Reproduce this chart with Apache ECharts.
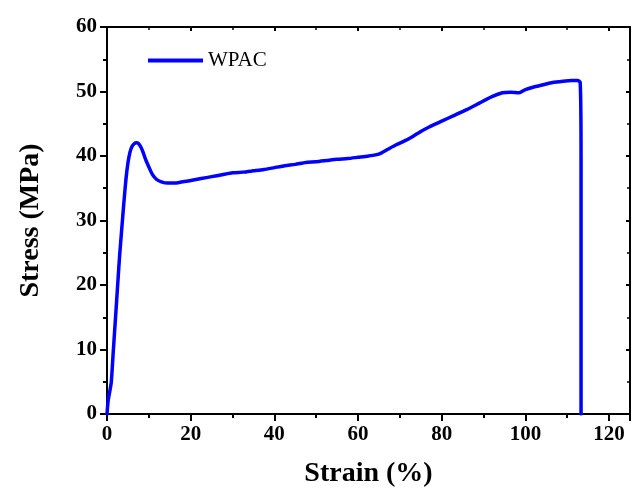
<!DOCTYPE html>
<html>
<head>
<meta charset="utf-8">
<script src="https://cdn.jsdelivr.net/npm/echarts@6/dist/echarts.min.js"></script>
<style>html,body{margin:0;padding:0;background:#fff}#c{width:633px;height:490px}</style>
</head>
<body>
<div id="c"></div>
<script>
const seriesName = 'WPAC';
const strain = [0,0.3,1.0,1.5,2.0,2.5,3.0,3.5,4.0,4.5,5.0,5.5,6.0,6.5,7.0,7.4,7.9,8.5,9.2,10.0,10.8,11.8,13.0,14.5,16.0,18.0,20.0,22.5,25.0,27.5,30.0,32.5,35.0,37.5,40.0,42.5,45.0,47.5,50.0,52.5,55.0,57.5,60.0,62.5,65.0,67.0,69.0,71.0,73.0,75.0,77.0,80.0,83.0,86.0,89.0,92.0,94.5,96.5,98.5,100.0,102.0,104.0,106.5,109.0,111.0,112.5,113.1,113.3,113.3];
const stress = [0,2.2,4.8,9.7,14.6,19.5,24.4,28.5,32.5,36.2,38.9,40.6,41.5,41.9,42.05,42.0,41.6,40.8,39.5,38.3,37.2,36.4,36.0,35.8,35.8,36.0,36.2,36.5,36.8,37.1,37.4,37.5,37.7,37.9,38.2,38.5,38.7,39.0,39.1,39.3,39.5,39.6,39.8,40.0,40.3,41.0,41.7,42.3,43.0,43.8,44.5,45.4,46.3,47.2,48.2,49.2,49.8,49.9,49.8,50.3,50.7,51.0,51.4,51.6,51.7,51.7,51.4,40,0];
const xTitle = 'Strain (%)';
const yTitle = 'Stress (MPa)';

const font = '"Liberation Serif", "Times New Roman", serif';
const data = strain.map((x, i) => [x, stress[i]]);
const lineAx = {show: true, onZero: false, lineStyle: {color: '#000', width: 2}};
const chart = echarts.init(document.getElementById('c'));
chart.setOption({
  animation: false,
  grid: {left: 107, right: 3, top: 27, bottom: 76, containLabel: false, outerBoundsMode: 'none'},
  legend: {
    data: [{name: seriesName, icon: 'rect'}], left: 143, top: 45, itemWidth: 55, itemHeight: 4, itemGap: 4,
    itemStyle: {color: '#0000ff'},
    textStyle: {fontFamily: font, fontSize: 21, color: '#000', padding: [2,0,0,0]}
  },
  xAxis: [{
    type: 'value', min: 0, max: 125, interval: 20, position: 'bottom',
    name: xTitle, nameLocation: 'middle', nameGap: 46,
    nameTextStyle: {fontFamily: font, fontSize: 28, fontWeight: 'bold', color: '#000'},
    axisLine: lineAx,
    axisTick: {show: true, inside: false, length: 7, lineStyle: {width: 2, color: '#000'}},
    minorTick: {show: true, splitNumber: 2, length: 4, lineStyle: {width: 2, color: '#000'}},
    axisLabel: {fontFamily: font, fontSize: 21, fontWeight: 'bold', color: '#000', margin: 10, showMaxLabel: false},
    splitLine: {show: false}
  }, {
    type: 'value', min: 0, max: 125, interval: 20, position: 'top',
    axisLine: lineAx,
    axisTick: {show: true, inside: true, length: 4, lineStyle: {width: 2, color: '#000'}},
    minorTick: {show: true, splitNumber: 2, length: 3, lineStyle: {width: 1.5, color: '#000'}},
    axisLabel: {show: false}, splitLine: {show: false}
  }],
  yAxis: [{
    type: 'value', min: 0, max: 60, interval: 10, position: 'left',
    name: yTitle, nameLocation: 'middle', nameGap: 62, nameRotate: 90,
    nameTextStyle: {fontFamily: font, fontSize: 28, fontWeight: 'bold', color: '#000'},
    axisLine: lineAx,
    axisTick: {show: true, inside: false, length: 7, lineStyle: {width: 2, color: '#000'}},
    minorTick: {show: true, splitNumber: 2, length: 4, lineStyle: {width: 2, color: '#000'}},
    axisLabel: {fontFamily: font, fontSize: 21, fontWeight: 'bold', color: '#000', margin: 10},
    splitLine: {show: false}
  }, {
    type: 'value', min: 0, max: 60, interval: 10, position: 'right',
    axisLine: lineAx,
    axisTick: {show: true, inside: true, length: 4, lineStyle: {width: 2, color: '#000'}},
    minorTick: {show: true, splitNumber: 2, length: 3, lineStyle: {width: 1.5, color: '#000'}},
    axisLabel: {show: false}, splitLine: {show: false}
  }],
  series: [{
    name: 'frameRef', type: 'line', data: data, showSymbol: false, symbol: 'none', silent: true,
    lineStyle: {opacity: 0}, xAxisIndex: 1, yAxisIndex: 1, z: 1
  }, {
    name: seriesName, type: 'line', data: data, showSymbol: false, symbol: 'none',
    smooth: 0.2, lineStyle: {color: '#0000ff', width: 3.5, join: 'round', cap: 'round'}, itemStyle: {color: '#0000ff'},
    xAxisIndex: 0, yAxisIndex: 0, z: 3
  }]
});
</script>
</body>
</html>
